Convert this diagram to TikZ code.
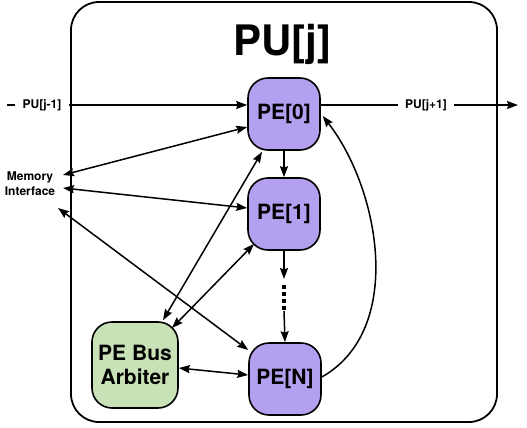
\documentclass[tikz,border=0pt]{standalone}
\usepackage{fontspec}
\setmainfont{TeX Gyre Heros}
\usetikzlibrary{arrows.meta,calc}
\definecolor{pepurple}{RGB}{180,160,240}
\definecolor{arbgreen}{RGB}{200,225,182}
\begin{document}
\begin{tikzpicture}[x=1pt,y=-1pt,
  tip/.tip={Stealth[length=11pt,width=8pt,inset=1.5pt]},
  arr/.style={line width=1.5pt,-tip},
  darr/.style={line width=1.5pt,tip-tip},
  pebox/.style={draw,line width=1.6pt,fill=pepurple,rounded corners=20pt,
    minimum width=72pt,minimum height=72pt,inner sep=0pt,
    font=\bfseries\fontsize{21}{24}\selectfont},
  arbbox/.style={draw,line width=1.6pt,fill=arbgreen,rounded corners=20pt,
    minimum width=86pt,minimum height=86pt,inner sep=0pt,align=center,
    font=\bfseries\fontsize{21}{24}\selectfont},
  outer/.style={draw,line width=1.8pt,rounded corners=28pt,
    minimum width=426pt,minimum height=420pt,inner sep=0pt},
  lbl/.style={fill=white,inner xsep=8pt,inner ysep=2pt,
    font=\bfseries\fontsize{12}{15}\selectfont},
  memlbl/.style={align=center,inner sep=2pt,
    font=\bfseries\fontsize{12}{15}\selectfont}
]
\useasboundingbox (0,0) rectangle (527,428);
\node[outer] (PUbox) at (284,212) {};
\node[font=\bfseries\fontsize{42}{46}\selectfont] (title) at (282,44) {PU[j]};

\node[pebox] (PE0) at (284,114) {PE[0]};
\node[pebox] (PE1) at (284,214) {PE[1]};
\node[pebox] (PEN) at (285,379) {PE[N]};
\node[arbbox] (arb) at (135,365) {PE Bus\\Arbiter};
\node[memlbl] (mem) at (30,184) {Memory\\Interface};

\coordinate (pjm1) at (7,105);
\coordinate (pjp1) at (518,105);
\coordinate (m1) at (63,175);
\coordinate (m2) at (63,188);
\coordinate (m3) at (58,208);
\coordinate (dtop) at (284,279);
\coordinate (dbot) at (284,311);

% horizontal PU links
\draw[arr] (pjm1) -- ($(PE0.west)+(0,-9)$);
\draw[arr] ($(PE0.east)+(0,-9)$) -- (pjp1);
\node[lbl] (lj1) at (42,105) {PU[j-1]};
\node[lbl,inner xsep=7pt] (lj2) at (426,105) {PU[j+1]};

% memory interface
\draw[darr] ($(PE0.west)+(0,13)$) -- (m1);
\draw[darr] ($(PE1.west)+(0,-6)$) -- (m2);
\draw[darr] ($(PEN.west)+(0,-29)$) -- (m3);

% arbiter links
\draw[darr] ($(PE0.south)+(-22,1)$) -- ($(arb.north)+(28,-1)$);
\draw[darr] ($(PE1.center)+(-30,30)$) -- ($(arb.center)+(37,-37)$);
\draw[darr] ($(arb.east)+(0,3)$) -- ($(PEN.west)+(0,-4)$);

% chain
\draw[arr] (PE0.south) -- (PE1.north);
\draw[arr] (PE1.south) -- (dtop);
\draw[line width=3.5pt,dash pattern=on 3.5pt off 3.5pt] ($(dtop)+(0,6)$) -- (dbot);
\draw[arr] (dbot) -- (PEN.north);

% feedback
\draw[arr] ($(PEN.east)+(0,-2)$) .. controls (405,330) and (380,190) .. ($(PE0.east)+(2,2)$);
\end{tikzpicture}
\end{document}
